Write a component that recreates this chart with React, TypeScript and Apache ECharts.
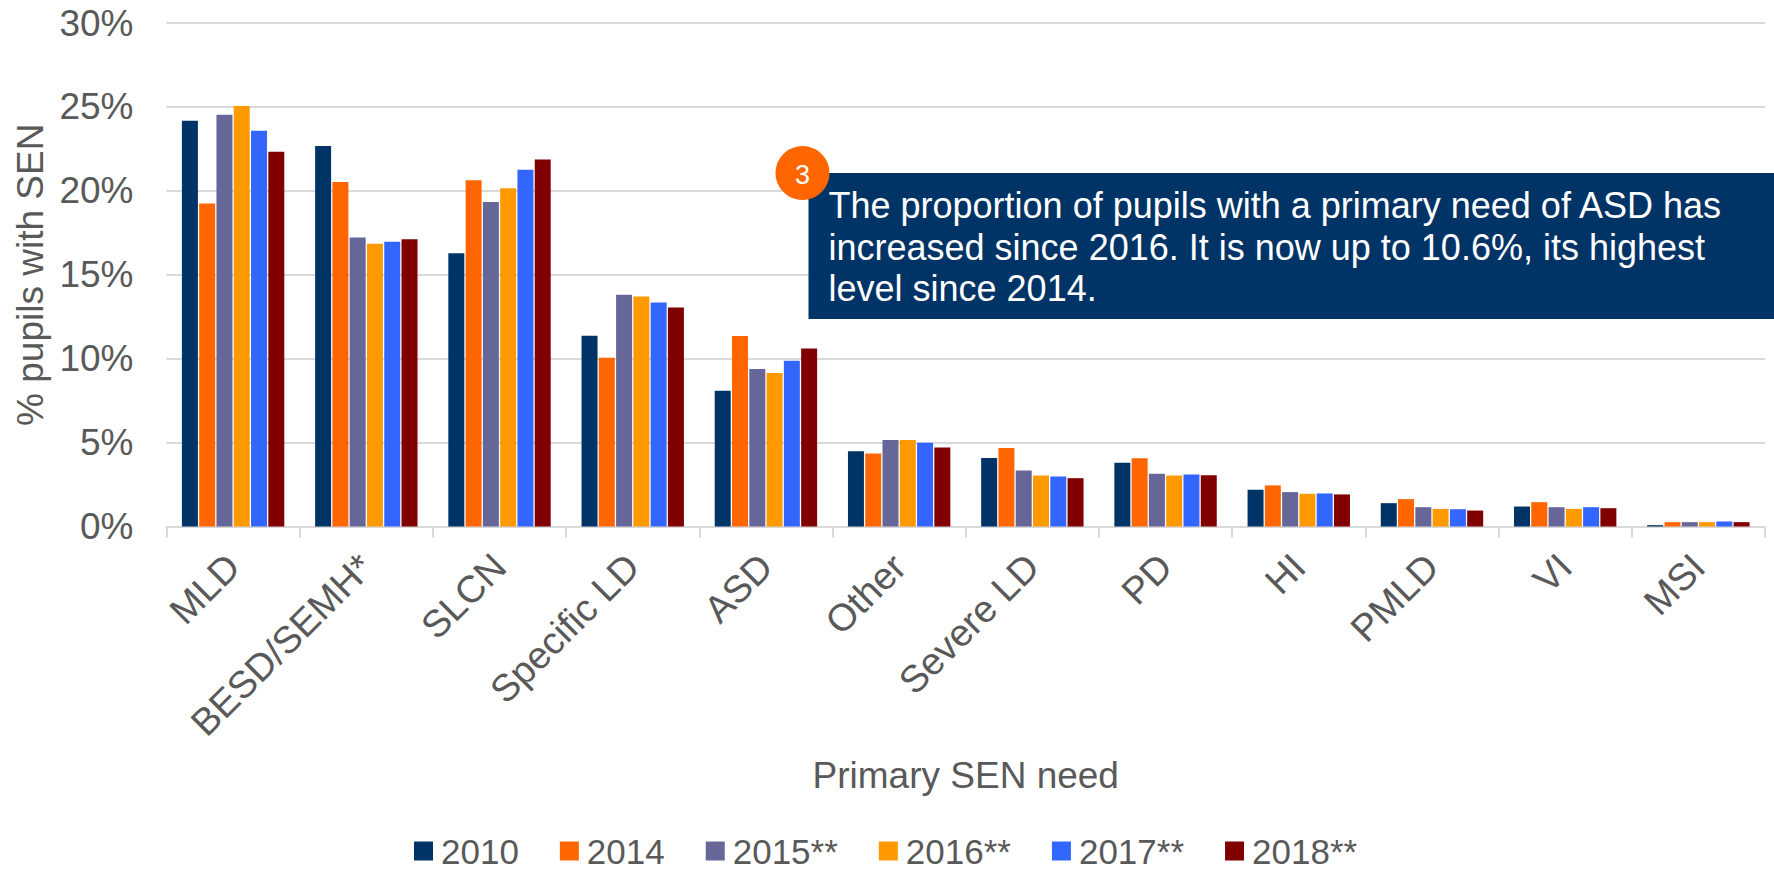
import React, { useEffect, useRef } from "react";
import * as echarts from "echarts";

const categories = ["MLD", "BESD/SEMH*", "SLCN", "Specific LD", "ASD", "Other", "Severe LD", "PD", "HI", "PMLD", "VI", "MSI"];
const s2010 = [24.18, 22.67, 16.28, 11.37, 8.09, 4.49, 4.08, 3.8, 2.19, 1.39, 1.19, 0.08];
const s2014 = [19.24, 20.52, 20.63, 10.05, 11.35, 4.35, 4.67, 4.06, 2.45, 1.63, 1.45, 0.26];
const s2015 = [24.54, 17.22, 19.33, 13.81, 9.38, 5.15, 3.34, 3.14, 2.05, 1.15, 1.15, 0.26];
const s2016 = [25.05, 16.84, 20.16, 13.71, 9.15, 5.15, 3.04, 3.04, 1.95, 1.05, 1.05, 0.26];
const s2017 = [23.58, 16.96, 21.26, 13.35, 9.88, 4.99, 2.98, 3.1, 1.97, 1.03, 1.15, 0.3];
const s2018 = [22.33, 17.11, 21.86, 13.05, 10.6, 4.71, 2.88, 3.06, 1.91, 0.95, 1.09, 0.26];
const seriesNames = ["2010", "2014", "2015**", "2016**", "2017**", "2018**"];
const seriesValues = [s2010, s2014, s2015, s2016, s2017, s2018];
const colors = ["#003366", "#FF6600", "#666699", "#FF9900", "#3366FF", "#800000"];
const note = "The proportion of pupils with a primary need of ASD has\nincreased since 2016. It is now up to 10.6%, its highest\nlevel since 2014.";

const FONT = "'Liberation Sans', Arial, sans-serif";
const GREY = "#595959";

export default function App() {
  const ref = useRef<HTMLDivElement>(null);
  useEffect(() => {
    document.body.style.margin = "0";
    const chart = echarts.init(ref.current!, undefined, { renderer: "svg" });
    chart.setOption({
      animation: false,
      textStyle: { fontFamily: FONT },
      grid: { left: 166.5, right: 9, top: 23, bottom: 345.5, containLabel: false, outerBoundsMode: "none" },
      legend: {
        left: 414,
        top: 833.5,
        padding: 0,
        itemWidth: 19,
        itemHeight: 19,
        itemGap: 41,
        icon: "rect",
        data: seriesNames,
        textStyle: { color: GREY, fontSize: 35, fontFamily: FONT, padding: [0, 0, 0, 3] },
      },
      xAxis: {
        type: "category",
        data: categories,
        name: "Primary SEN need",
        nameLocation: "middle",
        nameGap: 230,
        nameTextStyle: { color: GREY, fontSize: 37, fontFamily: FONT },
        axisLine: { lineStyle: { color: "#D9D9D9", width: 2 } },
        axisTick: { show: true, length: 11, alignWithLabel: false, lineStyle: { color: "#D9D9D9", width: 2 } },
        axisLabel: { color: GREY, fontSize: 38, fontFamily: FONT, rotate: 45, interval: 0, margin: 34 },
      },
      yAxis: {
        type: "value",
        min: 0,
        max: 30,
        interval: 5,
        name: "% pupils with SEN",
        nameLocation: "middle",
        nameGap: 117,
        nameTextStyle: { color: GREY, fontSize: 37, fontFamily: FONT },
        axisLine: { show: false },
        axisTick: { show: false },
        axisLabel: { color: GREY, fontSize: 37, fontFamily: FONT, margin: 33, formatter: "{value}%" },
        splitLine: { lineStyle: { color: "#D9D9D9", width: 2 } },
      },
      series: seriesNames.map((name, i) => ({
        name,
        type: "bar",
        data: seriesValues[i],
        barWidth: 16,
        barGap: "8%",
        itemStyle: { color: colors[i] },
      })),
      graphic: [
        { type: "rect", z: 100, shape: { x: 808.5, y: 173, width: 966, height: 146 }, style: { fill: "#003366" } },
        { type: "circle", z: 101, shape: { cx: 802.5, cy: 173, r: 27 }, style: { fill: "#FF6600" } },
        { type: "text", z: 102, x: 802.5, y: 175, style: { text: "3", fill: "#fff", font: `27px ${FONT}`, textAlign: "center", textVerticalAlign: "middle" } },
        { type: "text", z: 102, x: 828.5, y: 185, style: { text: note, fill: "#fff", font: `36px ${FONT}`, lineHeight: 41.5, textAlign: "left", textVerticalAlign: "top" } },
      ],
    });
    return () => chart.dispose();
  }, []);
  return <div ref={ref} style={{ width: 1774, height: 872 }} />;
}
